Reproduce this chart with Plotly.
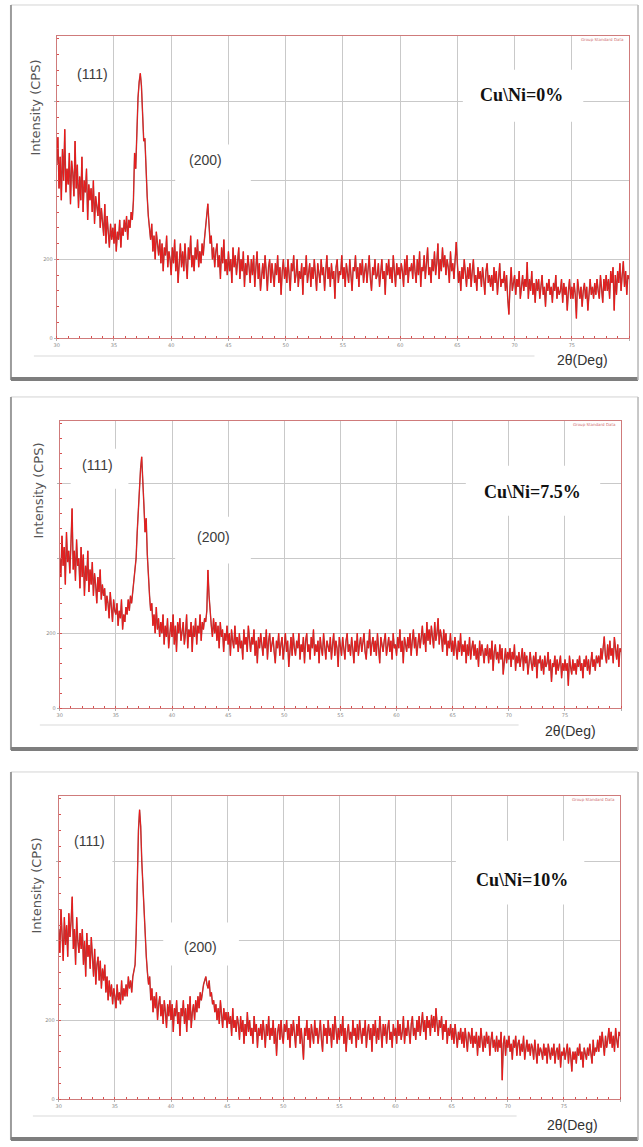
import numpy as np
import plotly.graph_objects as go

W, H = 643, 1147

# ---------------- data (0.1 deg steps) ----------------
TWO_THETA_START = 30.0
TWO_THETA_STEP = 0.1

INTENSITY_0 = [
    440, 510, 380, 460, 350, 480, 400, 530, 370, 430,   # 30
    390, 470, 340, 450, 420, 360, 500, 380, 440, 330,   # 31
    410, 350, 460, 320, 400, 370, 430, 300, 390, 350,   # 32
    380, 320, 400, 290, 360, 340, 310, 370, 280, 330,   # 33
    300, 260, 340, 240, 310, 270, 230, 290, 250, 280,   # 34
    240, 290, 220, 270, 250, 300, 230, 280, 260, 300,   # 35
    270, 310, 250, 300, 280, 320, 300, 350, 470, 430,   # 36
    560, 610, 650, 672, 640, 560, 500, 507, 420, 360,   # 37
    310, 270, 250, 290, 220, 260, 200, 270, 230, 210,   # 38
    250, 190, 240, 170, 230, 210, 260, 180, 220, 200,   # 39
    160, 230, 190, 250, 170, 220, 140, 210, 240, 180,   # 40
    220, 170, 240, 190, 150, 230, 200, 260, 180, 210,   # 41
    170, 230, 200, 250, 180, 220, 190, 240, 210, 250,   # 42
    280, 320, 341, 290, 240, 260, 200, 230, 180, 220,   # 43
    240, 180, 210, 150, 230, 190, 250, 170, 200, 160,   # 44
    220, 170, 200, 140, 230, 180, 210, 160, 190, 230,   # 45
    150, 200, 170, 220, 130, 190, 160, 210, 180, 140,   # 46
    200, 160, 210, 130, 180, 220, 150, 190, 120, 170,   # 47
    190, 150, 210, 170, 120, 180, 200, 140, 190, 160,   # 48
    130, 190, 160, 210, 140, 180, 110, 170, 200, 150,   # 49
    180, 140, 200, 160, 120, 190, 170, 210, 140, 160,   # 50
    200, 130, 170, 150, 190, 110, 180, 160, 210, 140,   # 51
    170, 190, 130, 180, 150, 200, 160, 120, 190, 170,   # 52
    140, 200, 160, 180, 120, 170, 210, 150, 180, 130,   # 53
    190, 150, 170, 100, 180, 200, 140, 170, 160, 210,   # 54
    150, 180, 130, 190, 170, 140, 200, 160, 120, 180,   # 55
    170, 210, 150, 180, 130, 190, 160, 200, 140, 170,   # 56
    190, 140, 170, 210, 150, 120, 180, 160, 200, 150,   # 57
    160, 190, 130, 180, 200, 150, 170, 110, 190, 160,   # 58
    200, 150, 180, 140, 210, 170, 130, 190, 160, 180,   # 59
    150, 190, 170, 130, 200, 160, 210, 140, 180, 170,   # 60
    190, 150, 210, 170, 140, 200, 160, 220, 130, 180,   # 61
    170, 210, 150, 190, 230, 160, 180, 140, 200, 170,   # 62
    220, 160, 190, 240, 150, 200, 170, 230, 180, 210,   # 63
    160, 200, 180, 140, 220, 170, 190, 150, 210, 244,   # 64
    190, 140, 170, 120, 180, 150, 200, 160, 130, 180,   # 65
    150, 190, 130, 170, 200, 140, 160, 120, 180, 150,   # 66
    170, 130, 180, 150, 110, 170, 190, 140, 160, 130,   # 67
    160, 120, 180, 140, 170, 110, 150, 190, 130, 150,   # 68
    140, 170, 120, 160, 100, 60, 130, 180, 120, 140,    # 69
    160, 110, 150, 130, 170, 100, 140, 160, 120, 150,   # 70
    130, 193, 100, 150, 120, 170, 110, 140, 90, 150,    # 71
    120, 150, 100, 140, 160, 110, 130, 80, 140, 120,    # 72
    150, 110, 130, 90, 140, 120, 160, 100, 130, 110,    # 73
    120, 150, 90, 140, 110, 130, 70, 120, 150, 100,     # 74
    130, 100, 140, 110, 50, 150, 120, 100, 130, 80,     # 75
    120, 140, 100, 130, 70, 120, 150, 110, 130, 100,    # 76
    140, 110, 150, 120, 100, 160, 130, 90, 150, 120,    # 77
    160, 120, 150, 100, 170, 140, 180, 70, 160, 110,    # 78
    170, 140, 190, 120, 160, 195, 130, 170, 110, 160,   # 79
    150,                                                # 80
]

INTENSITY_7_5 = [
    400, 350, 460, 380, 430, 330, 470, 390, 420, 360,   # 30
    440, 533, 370, 420, 340, 450, 380, 400, 320, 430,   # 31
    350, 410, 300, 380, 340, 420, 310, 370, 330, 390,   # 32
    300, 360, 330, 280, 350, 310, 370, 290, 330, 300,   # 33
    320, 260, 300, 280, 240, 310, 270, 230, 290, 260,   # 34
    250, 280, 220, 260, 240, 290, 210, 250, 230, 270,   # 35
    250, 290, 260, 300, 280, 310, 330, 350, 400, 470,   # 36
    540, 600, 640, 671, 620, 540, 470, 507, 410, 340,   # 37
    300, 260, 280, 220, 250, 200, 270, 210, 240, 190,   # 38
    230, 200, 250, 170, 220, 190, 240, 160, 210, 230,   # 39
    190, 250, 170, 220, 150, 230, 200, 240, 180, 210,   # 40
    230, 170, 200, 250, 160, 210, 190, 230, 150, 220,   # 41
    190, 240, 170, 220, 200, 250, 180, 230, 210, 240,   # 42
    230, 260, 369, 300, 240, 220, 190, 240, 200, 230,   # 43
    180, 220, 160, 230, 190, 210, 150, 200, 180, 220,   # 44
    170, 200, 140, 210, 180, 160, 220, 170, 190, 150,   # 45
    200, 160, 180, 130, 210, 170, 190, 150, 220, 170,   # 46
    150, 190, 170, 210, 140, 180, 120, 190, 160, 200,   # 47
    170, 140, 190, 160, 210, 130, 180, 200, 150, 170,   # 48
    190, 150, 120, 180, 160, 200, 140, 170, 190, 130,   # 49
    170, 200, 150, 180, 110, 170, 190, 140, 200, 160,   # 50
    140, 180, 160, 200, 130, 170, 150, 190, 120, 180,   # 51
    200, 150, 170, 130, 190, 160, 210, 140, 170, 150,   # 52
    180, 120, 190, 160, 140, 200, 170, 130, 180, 160,   # 53
    150, 190, 130, 170, 200, 140, 180, 160, 110, 190,   # 54
    170, 140, 190, 160, 130, 180, 200, 150, 170, 140,   # 55
    190, 160, 120, 180, 150, 200, 140, 170, 190, 150,   # 56
    170, 200, 150, 130, 180, 160, 210, 140, 170, 190,   # 57
    150, 180, 140, 200, 160, 120, 190, 170, 150, 180,   # 58
    200, 140, 170, 190, 150, 180, 130, 200, 160, 170,   # 59
    140, 190, 160, 210, 150, 180, 120, 190, 170, 150,   # 60
    190, 160, 200, 140, 180, 210, 160, 190, 140, 180,   # 61
    200, 160, 190, 220, 170, 200, 150, 230, 180, 210,   # 62
    170, 220, 190, 160, 230, 180, 200, 240, 170, 210,   # 63
    190, 150, 210, 170, 200, 140, 180, 160, 200, 150,   # 64
    180, 140, 190, 160, 130, 180, 150, 200, 140, 170,   # 65
    150, 180, 120, 170, 140, 190, 130, 160, 180, 140,   # 66
    170, 130, 160, 110, 180, 140, 170, 150, 120, 160,   # 67
    140, 170, 120, 160, 130, 180, 100, 150, 170, 130,   # 68
    150, 120, 170, 130, 160, 90, 140, 160, 120, 150,    # 69
    130, 160, 110, 150, 130, 170, 100, 140, 120, 150,   # 70
    110, 140, 160, 100, 150, 120, 140, 90, 130, 150,    # 71
    120, 100, 140, 110, 150, 80, 130, 120, 140, 100,    # 72
    130, 90, 140, 110, 120, 150, 100, 130, 70, 120,     # 73
    110, 140, 90, 130, 100, 120, 140, 80, 120, 100,     # 74
    130, 100, 120, 60, 140, 110, 90, 130, 100, 120,     # 75
    90, 130, 110, 140, 100, 120, 80, 130, 110, 140,     # 76
    100, 130, 90, 120, 150, 110, 130, 100, 140, 120,    # 77
    140, 110, 160, 130, 170, 191, 140, 120, 170, 130,   # 78
    180, 140, 160, 120, 190, 150, 130, 170, 110, 160,   # 79
    150,                                                # 80
]

INTENSITY_10 = [
    430, 370, 480, 400, 350, 460, 390, 440, 360, 470,   # 30
    410, 450, 512, 380, 430, 340, 460, 400, 370, 420,   # 31
    380, 430, 340, 400, 310, 420, 360, 390, 330, 410,   # 32
    350, 310, 380, 290, 340, 360, 300, 350, 280, 330,   # 33
    300, 340, 270, 310, 250, 300, 260, 290, 240, 280,   # 34
    260, 230, 290, 250, 270, 240, 300, 250, 280, 260,   # 35
    290, 260, 310, 280, 300, 270, 310, 330, 340, 420,   # 36
    560, 680, 732, 690, 600, 530, 500, 420, 360, 320,   # 37
    290, 310, 250, 280, 220, 260, 230, 270, 200, 240,   # 38
    260, 210, 240, 190, 250, 220, 180, 240, 210, 250,   # 39
    200, 240, 170, 230, 210, 250, 190, 220, 160, 230,   # 40
    210, 250, 190, 230, 170, 240, 200, 260, 180, 220,   # 41
    240, 200, 250, 220, 260, 230, 270, 250, 280, 290,   # 42
    300, 310, 290, 280, 300, 260, 270, 240, 250, 220,   # 43
    240, 200, 230, 190, 250, 210, 180, 230, 200, 220,   # 44
    180, 220, 190, 210, 160, 230, 180, 200, 170, 210,   # 45
    190, 150, 210, 170, 200, 140, 190, 160, 220, 170,   # 46
    200, 160, 180, 140, 210, 170, 190, 130, 180, 160,   # 47
    190, 150, 200, 170, 130, 190, 160, 210, 150, 180,   # 48
    160, 200, 140, 180, 110, 170, 190, 150, 200, 160,   # 49
    140, 190, 170, 200, 150, 180, 130, 190, 160, 200,   # 50
    170, 130, 190, 160, 210, 140, 180, 150, 100, 180,   # 51
    160, 200, 150, 180, 130, 190, 170, 140, 200, 160,   # 52
    180, 140, 170, 200, 150, 120, 190, 160, 180, 140,   # 53
    200, 160, 180, 130, 190, 150, 210, 170, 140, 180,   # 54
    150, 190, 160, 210, 140, 180, 120, 170, 190, 150,   # 55
    170, 140, 200, 160, 180, 130, 190, 150, 200, 170,   # 56
    140, 180, 160, 200, 130, 170, 190, 150, 180, 120,   # 57
    190, 160, 200, 140, 180, 150, 210, 170, 130, 190,   # 58
    160, 190, 140, 180, 200, 150, 170, 130, 190, 160,   # 59
    180, 140, 200, 160, 190, 150, 170, 210, 140, 180,   # 60
    160, 200, 170, 140, 190, 210, 160, 180, 150, 200,   # 61
    170, 210, 160, 190, 220, 170, 200, 150, 210, 180,   # 62
    200, 160, 213, 180, 210, 170, 230, 190, 160, 200,   # 63
    180, 210, 150, 190, 170, 200, 140, 180, 160, 190,   # 64
    150, 180, 140, 190, 160, 130, 170, 150, 180, 140,   # 65
    170, 130, 180, 150, 120, 170, 160, 140, 180, 130,   # 66
    160, 140, 170, 110, 160, 130, 180, 150, 120, 160,   # 67
    130, 170, 140, 160, 110, 150, 170, 130, 150, 120,   # 68
    160, 120, 150, 130, 170, 48, 140, 160, 110, 150,    # 69
    130, 160, 120, 140, 100, 150, 130, 160, 110, 140,   # 70
    150, 110, 140, 120, 160, 100, 130, 150, 120, 140,   # 71
    110, 140, 130, 100, 150, 120, 90, 140, 110, 130,    # 72
    120, 100, 140, 110, 130, 90, 140, 120, 100, 130,    # 73
    110, 140, 90, 120, 130, 100, 140, 80, 120, 110,     # 74
    130, 100, 120, 140, 90, 130, 110, 70, 120, 100,     # 75
    120, 90, 130, 110, 140, 100, 120, 80, 130, 110,     # 76
    100, 130, 110, 140, 120, 90, 150, 110, 130, 120,    # 77
    150, 120, 160, 130, 170, 140, 110, 160, 130, 150,   # 78
    180, 140, 170, 130, 160, 120, 180, 150, 130, 170,   # 79
    160,                                                # 80
]

SAMPLE_LABELS = ["Cu\\Ni=0%", "Cu\\Ni=7.5%", "Cu\\Ni=10%"]
PEAK_LABELS = ["(111)", "(200)"]
X_TICKS = [30, 35, 40, 45, 50, 55, 60, 65, 70, 75, 80]
X_TICK_TEXT = ["30", "35", "40", "45", "50", "55", "60", "65", "70", "75", ""]
Y_TICKS = [0, 200, 400, 600]
Y_TICK_TEXT = ["0", "200", "", ""]
X_RANGE = [30, 80]
Y_RANGE = [0, 767]

SERIES = [INTENSITY_0, INTENSITY_7_5, INTENSITY_10]

# ---------------- layout (pixel geometry) ----------------
PANELS = [
    dict(frame=(8, 5, 638, 381), plot=(54, 36, 629, 339),
         p111=(90, 74), p200=(203, 160), lab=(521, 95),
         ytitle=(33, 108), xtitle=(582, 361), sep=(31, 534, 357),
         boxes=[(173, 145, 249, 190), (462, 70, 583, 122)]),
    dict(frame=(8, 398, 638, 752), plot=(57, 422, 621, 710),
         p111=(95, 466), p200=(211, 538), lab=(532, 493),
         ytitle=(36, 492), xtitle=(570, 733), sep=(37, 518, 727),
         boxes=[(68, 450, 126, 490), (173, 518, 249, 565), (465, 467, 600, 517)]),
    dict(frame=(8, 774, 638, 1143), plot=(56, 798, 620, 1102),
         p111=(87, 843), p200=(198, 949), lab=(521, 882),
         ytitle=(34, 888), xtitle=(572, 1128), sep=(30, 516, 1119),
         boxes=[(57, 822, 110, 870), (161, 925, 237, 968), (455, 843, 584, 907)]),
]


def px(x):
    return x / W


def py(y):
    return 1 - y / H


fig = go.Figure()
shapes = []
annotations = []

for i, (panel, values) in enumerate(zip(PANELS, SERIES)):
    n = i + 1
    xa = "x" if n == 1 else f"x{n}"
    ya = "y" if n == 1 else f"y{n}"
    xkey = "xaxis" if n == 1 else f"xaxis{n}"
    ykey = "yaxis" if n == 1 else f"yaxis{n}"
    l, t, r, b = panel["plot"]

    y_vals = np.array(values, dtype=float)
    x_vals = np.round(TWO_THETA_START + TWO_THETA_STEP * np.arange(len(y_vals)), 2)

    fig.add_trace(go.Scatter(x=x_vals, y=y_vals, mode="lines", xaxis=xa, yaxis=ya,
                             line=dict(color="rgba(110,40,40,0.8)", width=1.4),
                             showlegend=False, hoverinfo="skip"))
    fig.add_trace(go.Scatter(x=x_vals, y=y_vals, mode="lines", xaxis=xa, yaxis=ya,
                             line=dict(color="#ff1010", width=0.8),
                             showlegend=False))

    fig.layout[xkey] = dict(
        domain=[px(l), px(r)], anchor=ya, range=X_RANGE,
        tickvals=X_TICKS, ticktext=X_TICK_TEXT,
        tickfont=dict(size=5, color="#8a8a8a", family="DejaVu Sans"),
        showgrid=True, gridcolor="#c9c9c9", gridwidth=1,
        showline=True, linecolor="#cf7b7b", linewidth=1, mirror=True,
        ticks="outside", ticklen=2, tickcolor="#b0b0b0",
        minor=dict(dtick=1, ticks="inside", ticklen=2, tickcolor="#d85050", showgrid=False),
        zeroline=False, fixedrange=True)
    fig.layout[ykey] = dict(
        domain=[py(b), py(t)], anchor=xa, range=Y_RANGE,
        tickvals=Y_TICKS, ticktext=Y_TICK_TEXT,
        tickfont=dict(size=5, color="#8a8a8a", family="DejaVu Sans"),
        showgrid=True, gridcolor="#c9c9c9", gridwidth=1,
        showline=True, linecolor="#cf7b7b", linewidth=1, mirror=True,
        ticks="outside", ticklen=2, tickcolor="#b0b0b0",
        minor=dict(dtick=40, ticks="inside", ticklen=2, tickcolor="#d85050", showgrid=False),
        zeroline=False, fixedrange=True)

    # panel frame (scanned-figure look)
    fl, ft, fr, fb = panel["frame"]
    shapes.append(dict(type="rect", xref="paper", yref="paper", layer="below",
                       x0=px(fl), x1=px(fr), y0=py(fb), y1=py(ft),
                       fillcolor="white", line=dict(color="#d4d4d4", width=1)))
    shapes.append(dict(type="line", xref="paper", yref="paper", layer="below",
                       x0=px(fl), x1=px(fl), y0=py(fb), y1=py(ft),
                       line=dict(color="#9c9c9c", width=2)))
    shapes.append(dict(type="line", xref="paper", yref="paper", layer="below",
                       x0=px(fl), x1=px(fr), y0=py(fb - 1), y1=py(fb - 1),
                       line=dict(color="#7e7e7e", width=4)))
    shapes.append(dict(type="line", xref="paper", yref="paper", layer="below",
                       x0=px(fr), x1=px(fr), y0=py(fb), y1=py(ft),
                       line=dict(color="#bdbdbd", width=1.5)))
    sx0, sx1, sy = panel["sep"]
    shapes.append(dict(type="line", xref="paper", yref="paper", layer="below",
                       x0=px(sx0), x1=px(sx1), y0=py(sy), y1=py(sy),
                       line=dict(color="#e6e6e6", width=1.5)))

    def to_deg(xp, l=l, r=r):
        return X_RANGE[0] + (xp - l) / (r - l) * (X_RANGE[1] - X_RANGE[0])

    def to_val(yp, t=t, b=b):
        return Y_RANGE[0] + (b - yp) / (b - t) * (Y_RANGE[1] - Y_RANGE[0])

    for (bx0, by0, bx1, by1) in panel["boxes"]:
        shapes.append(dict(type="rect", xref=xa, yref=ya, layer="between",
                           x0=to_deg(bx0), x1=to_deg(bx1), y0=to_val(by1), y1=to_val(by0),
                           fillcolor="white", line=dict(width=0)))

    annotations.append(dict(xref="paper", yref="paper", x=px(panel["p111"][0]), y=py(panel["p111"][1]),
                            text=PEAK_LABELS[0], showarrow=False, xanchor="center", yanchor="middle",
                            font=dict(family="Liberation Sans Narrow, Liberation Sans", size=14, color="#3c3c3c")))
    annotations.append(dict(xref="paper", yref="paper", x=px(panel["p200"][0]), y=py(panel["p200"][1]),
                            text=PEAK_LABELS[1], showarrow=False, xanchor="center", yanchor="middle",
                            font=dict(family="Liberation Sans Narrow, Liberation Sans", size=14, color="#3c3c3c")))
    annotations.append(dict(xref="paper", yref="paper", x=px(panel["lab"][0]), y=py(panel["lab"][1]),
                            text="<b>" + SAMPLE_LABELS[i] + "</b>", showarrow=False,
                            xanchor="center", yanchor="middle",
                            font=dict(family="Liberation Serif", size=18, color="#111111")))
    annotations.append(dict(xref="paper", yref="paper", x=px(panel["ytitle"][0]), y=py(panel["ytitle"][1]),
                            text="Intensity (CPS)", showarrow=False, textangle=-90,
                            xanchor="center", yanchor="middle",
                            font=dict(family="DejaVu Sans", size=13, color="#555555")))
    annotations.append(dict(xref="paper", yref="paper", x=px(panel["xtitle"][0]), y=py(panel["xtitle"][1]),
                            text="2θ(Deg)", showarrow=False, xanchor="center", yanchor="middle",
                            font=dict(family="Liberation Sans Narrow, Liberation Sans", size=14, color="#333333")))
    annotations.append(dict(xref="paper", yref="paper", x=px(r - 3), y=py(t + 4),
                            text="Group Standard Data", showarrow=False, xanchor="right", yanchor="middle",
                            font=dict(family="DejaVu Sans", size=4, color="#d07070")))

fig.update_layout(
    width=W, height=H,
    margin=dict(l=0, r=0, t=0, b=0),
    paper_bgcolor="white",
    plot_bgcolor="white",
    shapes=shapes,
    annotations=annotations,
    showlegend=False,
)

fig.write_html("out.html", config={"displayModeBar": False})
